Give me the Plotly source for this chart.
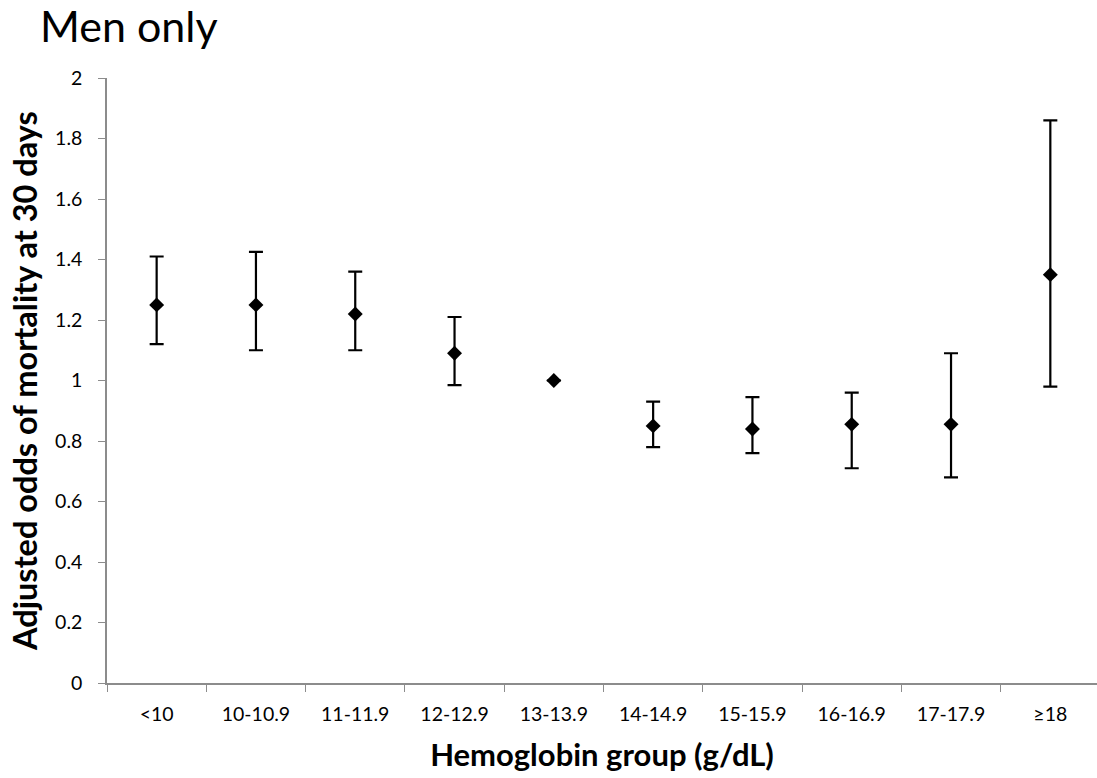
import plotly.graph_objects as go

# Hemoglobin groups and adjusted odds of 30-day mortality (men only)
groups = ["<10", "10-10.9", "11-11.9", "12-12.9", "13-13.9",
          "14-14.9", "15-15.9", "16-16.9", "17-17.9", "≥18"]
odds = [1.25, 1.25, 1.22, 1.09, 1.00, 0.85, 0.84, 0.855, 0.855, 1.35]
ci_low = [1.12, 1.10, 1.10, 0.985, None, 0.78, 0.76, 0.71, 0.68, 0.98]
ci_high = [1.41, 1.425, 1.36, 1.21, None, 0.93, 0.945, 0.96, 1.09, 1.86]
y_ticks = [0, 0.2, 0.4, 0.6, 0.8, 1.0, 1.2, 1.4, 1.6, 1.8, 2.0]
y_tick_text = ["0", "0.2", "0.4", "0.6", "0.8", "1", "1.2", "1.4", "1.6", "1.8", "2"]

err_plus = [None if h is None else h - o for h, o in zip(ci_high, odds)]
err_minus = [None if l is None else o - l for l, o in zip(ci_low, odds)]

FONT = "Lato, 'Open Sans', sans-serif"
AXIS_GRAY = "#8c8c8c"

fig = go.Figure(
    go.Scatter(
        x=groups,
        y=odds,
        mode="markers",
        marker=dict(symbol="diamond", size=11.5, color="black"),
        error_y=dict(
            type="data",
            symmetric=False,
            array=err_plus,
            arrayminus=err_minus,
            color="black",
            thickness=2.2,
            width=7,
        ),
        showlegend=False,
        hoverinfo="x+y",
    )
)

fig.update_layout(
    width=1097,
    height=778,
    margin=dict(l=107, r=0, t=78, b=95),
    paper_bgcolor="white",
    plot_bgcolor="white",
    font=dict(family=FONT, color="black"),
    title=dict(
        text="Men only",
        font=dict(family=FONT, size=43, color="black"),
        x=40 / 1097,
        xanchor="left",
        y=1 - 27 / 778,
        yanchor="middle",
    ),
)

fig.update_xaxes(
    type="category",
    range=[-0.5, 9.47],
    tickson="boundaries",
    ticks="outside",
    ticklen=7,
    tickwidth=1.3,
    tickcolor=AXIS_GRAY,
    showline=True,
    linecolor=AXIS_GRAY,
    linewidth=1.5,
    showgrid=False,
    zeroline=False,
    ticklabelstandoff=13,
    tickfont=dict(family=FONT, size=19.5, color="black"),
    title=dict(
        text="<b>Hemoglobin group (g/dL)</b>",
        font=dict(family=FONT, size=31, color="black"),
        standoff=20,
    ),
)

fig.update_yaxes(
    range=[0, 2],
    tickvals=y_ticks,
    ticktext=y_tick_text,
    ticks="outside",
    ticklen=7,
    tickwidth=1.3,
    tickcolor=AXIS_GRAY,
    showline=True,
    linecolor=AXIS_GRAY,
    linewidth=1.5,
    showgrid=False,
    zeroline=False,
    ticklabelstandoff=12,
    tickfont=dict(family=FONT, size=19.5, color="black"),
    title=dict(
        text="<b>Adjusted odds of mortality at 30 days</b>",
        font=dict(family=FONT, size=32.5, color="black"),
        standoff=8,
    ),
)

fig.write_html("out.html")
